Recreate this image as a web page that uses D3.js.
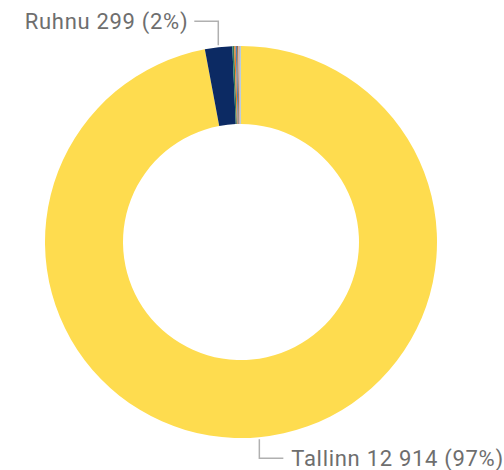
<!DOCTYPE html>
<html>
<head>
<meta charset="utf-8">
<script src="https://cdn.jsdelivr.net/npm/d3@7"></script>
<style>
  body { margin: 0; background: #fff; }
  text { font-family: "Roboto", "Open Sans", sans-serif; }
</style>
</head>
<body>
<script>
// data
var names = ["Tallinn", "Ruhnu", "Kihnu", "Vormsi", "Muhu", "Hiiumaa", "Saaremaa", "Abruka", "Piirissaar"];
var values = [12914, 299, 20, 16, 15, 13, 11, 10, 9];
var colors = ["#fedc4f", "#0c2a63", "#2f7d5a", "#f07b24", "#4d7fb7", "#9b6b3a", "#d4a3a3", "#a9a9a9", "#a8c3dc"];
var labelled = ["Tallinn", "Ruhnu"];

var width = 504, height = 470;
var cx = 241, cy = 242;
var outerR = 196, innerR = 118;

var total = d3.sum(values);
var data = names.map(function(n, i) { return {name: n, value: values[i], color: colors[i]}; });

var svg = d3.select("body").append("svg")
    .attr("width", width)
    .attr("height", height);

var g = svg.append("g")
    .attr("transform", "translate(" + cx + "," + cy + ")");

var pie = d3.pie()
    .value(function(d) { return d.value; })
    .sort(null);

var arc = d3.arc()
    .innerRadius(innerR)
    .outerRadius(outerR);

var arcs = pie(data);

g.selectAll("path")
    .data(arcs)
    .enter()
    .append("path")
    .attr("d", arc)
    .attr("fill", function(d) { return d.data.color; });

// labels with elbow leader lines
var fmt = function(v) { return d3.format(",")(v).replace(/,/g, " "); };

arcs.forEach(function(a) {
    if (labelled.indexOf(a.data.name) < 0) return;
    var mid = (a.startAngle + a.endAngle) / 2;
    var px = Math.sin(mid) * (outerR + 2);
    var py = -Math.cos(mid) * (outerR + 2);
    var top = py < 0;
    var ey = top ? py - 24 : py + 19;
    var ex = top ? px - 24 : px + 24;
    var pct = Math.round(a.data.value / total * 100);

    g.append("path")
        .attr("d", "M" + px + "," + py + "L" + px + "," + ey + "L" + ex + "," + ey)
        .attr("fill", "none")
        .attr("stroke", "#b0b0b0")
        .attr("stroke-width", 1.5);

    g.append("text")
        .attr("x", top ? ex - 6 : ex + 8)
        .attr("y", ey)
        .attr("dy", "0.35em")
        .attr("text-anchor", top ? "end" : "start")
        .attr("font-size", 22)
        .attr("letter-spacing", 0.7)
        .attr("fill", "#6e6e6e")
        .text(a.data.name + " " + fmt(a.data.value) + " (" + pct + "%)");
});
</script>
</body>
</html>
